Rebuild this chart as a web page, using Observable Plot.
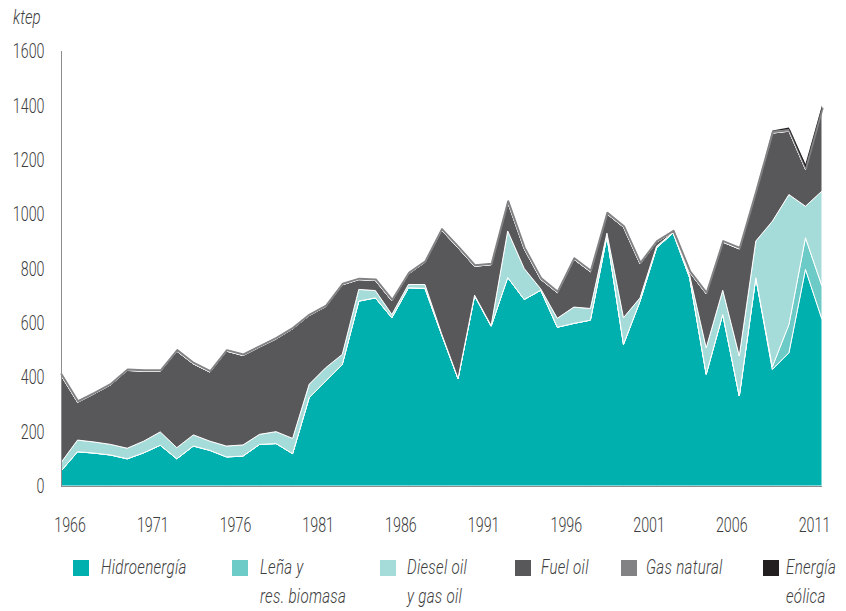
<!DOCTYPE html>
<html>
<head>
<meta charset="utf-8">
<script src="https://cdn.jsdelivr.net/npm/d3@7"></script>
<script src="https://cdn.jsdelivr.net/npm/@observablehq/plot@0.6"></script>
<style>
  body { margin: 0; background: #fff; }
  #wrap { position: relative; width: 846px; height: 611px; overflow: hidden;
          font-family: Roboto, "DejaVu Sans", sans-serif; font-weight: 300; color: #3d3d3d; }
  #unit { position: absolute; left: 13px; top: 5px; font-style: italic; font-size: 21px;
          transform: scaleX(0.72); transform-origin: left top; }
  .item { position: absolute; top: 553px; }
  .sw { position: absolute; top: 7px; width: 16px; height: 16px; }
  .lab { position: absolute; top: 0; font-style: italic; font-size: 21px; line-height: 29px; white-space: nowrap;
         letter-spacing: 0.4px; transform: scaleX(0.72); transform-origin: left top; }
  #chart { position: absolute; left: 0; top: 0; }
</style>
</head>
<body>
<div id="wrap">
  <div id="chart"></div>
  <div id="unit">ktep</div>
  <div id="legend"></div>
</div>
<script>
// ---- Data (ktep) ----
const years = [1965,1966,1967,1968,1969,1970,1971,1972,1973,1974,1975,1976,1977,1978,1979,
               1980,1981,1982,1983,1984,1985,1986,1987,1988,1989,1990,1991,1992,1993,1994,
               1995,1996,1997,1998,1999,2000,2001,2002,2003,2004,2005,2006,2007,2008,2009,2010,2011];

const hidro  = [55,126,121,114,100,122,150,100,147,131,107,110,153,156,119,
                325,386,447,680,692,619,729,727,558,395,700,588,767,686,720,
                584,598,610,919,521,680,876,931,766,411,631,331,766,429,490,797,613];
const lena   = [0,0,0,0,0,0,0,0,0,0,0,0,0,0,0,
                0,0,0,0,0,0,0,0,0,0,0,0,0,0,0,
                0,0,0,0,0,0,0,0,0,0,0,0,0,10,104,116,122];
const diesel = [31,43,41,39,39,43,49,41,41,34,40,41,37,44,56,
                49,49,37,43,27,12,12,14,3,1,2,2,171,114,5,
                33,60,43,11,98,12,6,2,9,97,89,147,135,535,478,116,350];
const fuel   = [321,139,177,219,286,257,223,355,261,254,349,329,321,341,403,
                253,225,256,36,37,50,39,82,380,480,106,224,106,72,35,
                94,176,135,71,333,125,15,2,11,199,177,394,180,324,233,136,300];
const gas    = [0,0,0,0,0,0,0,0,0,0,0,0,0,0,0,
                0,0,0,0,0,0,0,0,0,0,0,0,0,0,0,
                0,0,0,0,0,0,0,0,0,0,0,0,0,0,0,0,0];
const eolica = [0,0,0,0,0,0,0,0,0,0,0,0,0,0,0,
                0,0,0,0,0,0,0,0,0,0,0,0,0,0,0,
                0,0,0,0,0,0,0,0,0,0,0,0,0,2,6,12,8];

const series = ["Hidroenergía", "Leña y res. biomasa", "Diesel oil y gas oil", "Fuel oil", "Gas natural", "Energía eólica"];
const legendLines = [["Hidroenergía"], ["Leña y", "res. biomasa"], ["Diesel oil", "y gas oil"], ["Fuel oil"], ["Gas natural"], ["Energía", "eólica"]];
const colors = ["#00b0af", "#6ccac7", "#a5dbd9", "#58585b", "#828284", "#231f20"];

const xTicks = [1966, 1971, 1976, 1981, 1986, 1991, 1996, 2001, 2006, 2011];
const yTicks = [0, 200, 400, 600, 800, 1000, 1200, 1400, 1600];

// ---- Build tables for the library ----
const stackedSeries = [hidro, lena, diesel, fuel, gas];
const data = [];
stackedSeries.forEach((arr, k) => years.forEach((yr, i) => data.push({year: yr, series: series[k], value: arr[i]})));
const wind = years.map((yr, i) => {
  const base = hidro[i] + lena[i] + diesel[i] + fuel[i] + gas[i];
  return {year: yr, base, top: base + eolica[i]};
});

const chart = Plot.plot({
  width: 846,
  height: 548,
  marginLeft: 61,
  marginRight: 24,
  marginTop: 51,
  marginBottom: 62,
  style: {fontFamily: 'Roboto, "DejaVu Sans", sans-serif', fontSize: "21px", fontWeight: 300, color: "#3d3d3d", background: "transparent"},
  x: {domain: [1965, 2011]},
  y: {domain: [0, 1600]},
  color: {domain: series.slice(0, 5), range: colors.slice(0, 5)},
  marks: [
    Plot.areaY(data, {x: "year", y: "value", fill: "series", stroke: "white", strokeWidth: 1, curve: "linear"}),
    Plot.lineY(wind, {x: "year", y: "base", stroke: colors[4], strokeWidth: 2, dy: -1.5}),
    Plot.areaY(wind, {x: "year", y1: "base", y2: "top", fill: colors[5], dy: -2}),
    Plot.ruleX([1965], {stroke: "#8c8c8c", strokeWidth: 1}),
    Plot.ruleY([0], {stroke: "#8c8c8c", strokeWidth: 1}),
    Plot.axisX({ticks: xTicks, tickSize: 0, tickPadding: 31, dx: -8, tickFormat: d => String(d), label: null, fill: "#3d3d3d"}),
    Plot.axisY({ticks: yTicks, tickSize: 0, tickPadding: 17, tickFormat: d => String(d), label: null, fill: "#3d3d3d"})
  ]
});
document.getElementById("chart").appendChild(chart);
// condense the tick labels horizontally (the reference uses a condensed face)
d3.select(chart).selectAll("text").each(function () {
  const L = this.getComputedTextLength();
  if (L > 0) {
    this.setAttribute("textLength", (L * 0.68).toFixed(2));
    this.setAttribute("lengthAdjust", "spacingAndGlyphs");
  }
});

// ---- Legend ----
const legendPos = [[73, 101], [232, 260], [380, 407], [515, 541], [621, 646], [763, 786]];
const legend = document.getElementById("legend");
series.forEach((s, k) => {
  const item = document.createElement("div");
  item.className = "item";
  item.style.left = legendPos[k][0] + "px";
  const sw = document.createElement("div");
  sw.className = "sw";
  sw.style.left = "0px";
  sw.style.background = colors[k];
  item.appendChild(sw);
  const lab = document.createElement("div");
  lab.className = "lab";
  lab.style.left = (legendPos[k][1] - legendPos[k][0]) + "px";
  lab.innerHTML = legendLines[k].join("<br>");
  item.appendChild(lab);
  legend.appendChild(item);
});
</script>
</body>
</html>
